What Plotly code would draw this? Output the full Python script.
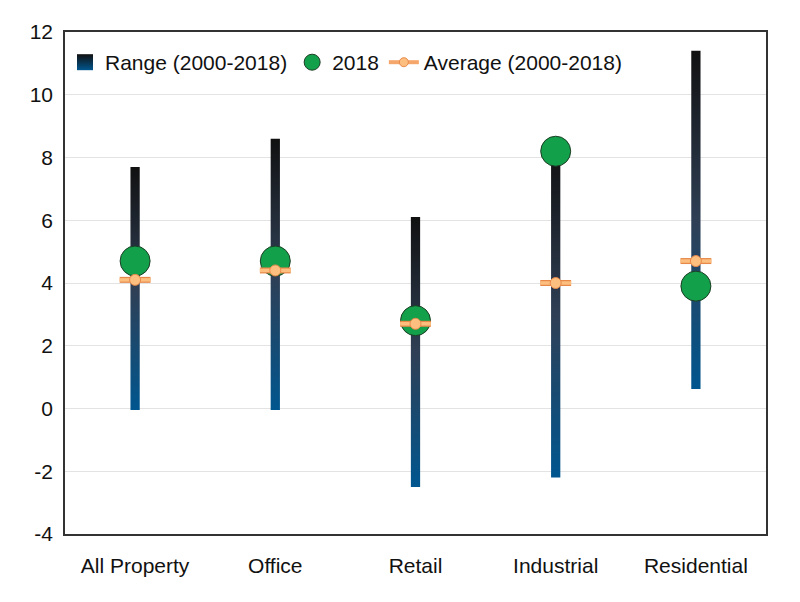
import plotly.graph_objects as go

categories = ["All Property", "Office", "Retail", "Industrial", "Residential"]
range_low = [-0.05, -0.05, -2.5, -2.2, 0.62]
range_high = [7.7, 8.6, 6.1, 8.2, 11.4]
value_2018 = [4.7, 4.7, 2.8, 8.2, 3.9]
average = [4.1, 4.4, 2.7, 4.0, 4.7]
y_ticks = [-4, -2, 0, 2, 4, 6, 8, 10, 12]
y_tick_text = ["-4", "-2", "0", "2", "4", "6", "8", "10", "12"]

BAR_HALF = 0.033
AVG_HALF = 0.11
grad = [[0, "#00568f"], [0.5, "#2f3f55"], [1, "#111111"]]

fig = go.Figure()

for i, (lo, hi) in enumerate(zip(range_low, range_high)):
    fig.add_trace(go.Scatter(
        x=[i - BAR_HALF, i + BAR_HALF, i + BAR_HALF, i - BAR_HALF, i - BAR_HALF],
        y=[lo, lo, hi, hi, lo],
        mode="lines", fill="toself", line=dict(width=0),
        fillgradient=dict(type="vertical", colorscale=grad),
        name="Range (2000-2018)", legendgroup="range", showlegend=False,
        hoverinfo="skip",
    ))
fig.add_trace(go.Scatter(
    x=[None], y=[None], mode="markers", name="Range (2000-2018)", legendgroup="range",
    marker=dict(symbol="square", size=16, color="#111111",
                gradient=dict(type="vertical", color="#00568f"), line=dict(width=0)),
))

xs = list(range(len(categories)))

fig.add_trace(go.Scatter(
    x=xs, y=value_2018, mode="markers", name="2018",
    marker=dict(size=30, color="#12a04b", line=dict(color="#1d3d25", width=1)),
))

# average: outlined horizontal bar with circle
ax, ay = [], []
for i, v in enumerate(average):
    ax += [i - AVG_HALF, i + AVG_HALF, None]
    ay += [v, v, None]
fig.add_trace(go.Scatter(x=ax, y=ay, mode="lines", line=dict(color="#e8894a", width=6),
                         showlegend=False, hoverinfo="skip"))
fig.add_trace(go.Scatter(x=ax, y=ay, mode="lines", line=dict(color="#fdbf7f", width=3.5),
                         showlegend=False, hoverinfo="skip"))
fig.add_trace(go.Scatter(x=xs, y=average, mode="markers", showlegend=False,
                         marker=dict(size=11, color="#fdbf7f", line=dict(color="#e8894a", width=1))))
fig.add_trace(go.Scatter(x=[None], y=[None], mode="lines+markers", name="Average (2000-2018)",
                         line=dict(color="#f5a66a", width=4),
                         marker=dict(size=9, color="#fdbf7f", line=dict(color="#e8894a", width=1))))

fig.update_layout(
    width=800, height=602,
    margin=dict(l=57, r=42, t=24, b=76),
    paper_bgcolor="white", plot_bgcolor="white",
    font=dict(family="Liberation Sans, Arial, sans-serif", size=21, color="#111"),
    legend=dict(orientation="h", x=0.0, y=0.98, xanchor="left", yanchor="top",
                font=dict(size=21), bgcolor="rgba(0,0,0,0)", itemwidth=30),
    xaxis=dict(range=[-0.5, 4.5], tickvals=xs, ticktext=categories, showgrid=False,
               zeroline=False, showline=True, linecolor="#333", linewidth=1.5, mirror=True,
               ticks="", fixedrange=True, automargin=False, ticklabelstandoff=12),
    yaxis=dict(range=[-4, 12], tickvals=y_ticks, ticktext=y_tick_text, showgrid=True,
               gridcolor="#e3e3e3", zeroline=False, showline=True, linecolor="#333",
               linewidth=1.5, mirror=True, ticks="", ticklabelstandoff=6, automargin=False),
)

fig.write_html("out.html")
